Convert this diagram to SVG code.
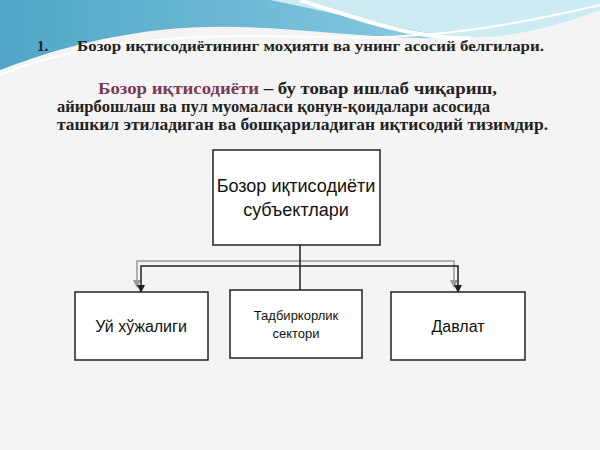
<svg xmlns="http://www.w3.org/2000/svg" width="600" height="450" viewBox="0 0 600 450">
<defs>
<linearGradient id="w" x1="0" y1="0" x2="1" y2="0"><stop offset="0" stop-color="#4fa6c6"/><stop offset="0.6" stop-color="#7cc3dc"/><stop offset="1" stop-color="#b8e2ee"/></linearGradient>
<marker id="ad" markerWidth="8" markerHeight="8" refX="7" refY="4" orient="auto" markerUnits="userSpaceOnUse"><path d="M0,0 L8,4 L0,8 Z" fill="#222"/></marker>
<marker id="ag" markerWidth="8" markerHeight="8" refX="7" refY="4" orient="auto" markerUnits="userSpaceOnUse"><path d="M0,0 L8,4 L0,8 Z" fill="#999"/></marker>
</defs>
<style>
.b{fill:#fff;stroke:#222;stroke-width:1.5}
.t{font-family:"Liberation Sans",Arial,sans-serif;fill:#111}
.s{font-family:"Liberation Serif","Times New Roman",serif;font-weight:bold;fill:#222}
</style>
<rect width="600" height="450" fill="#f4f4f4"/>
<path d="M0,0 H600 V10 C540,25 480,40 420,38 C330,36 250,20 160,30 C90,38 40,55 0,70 Z" fill="url(#w)"/>
<path d="M270,0 C320,10 380,25 440,35 C500,44 560,25 600,10 V0 Z" fill="#cdebf2"/>
<path d="M0,75 C60,50 140,36 250,36 C350,36 420,48 600,5" fill="none" stroke="#fff" stroke-width="2"/>
<path d="M300,0 C360,20 420,40 470,38" fill="none" stroke="#fff" stroke-width="4"/>
<text class="s" x="37" y="51" font-size="15">1.</text>
<text class="s" x="77" y="51" font-size="15" textLength="467" lengthAdjust="spacingAndGlyphs">Бозор иқтисодиётининг  моҳияти ва унинг асосий белгилари.</text>
<text class="s" x="98" y="94" font-size="17" textLength="399" lengthAdjust="spacingAndGlyphs"><tspan fill="#7a3a55">Бозор иқтисодиёти</tspan> – бу товар ишлаб чиқариш,</text>
<text class="s" x="57" y="112" font-size="17" textLength="433" lengthAdjust="spacingAndGlyphs">айирбошлаш ва пул муомаласи қонун-қоидалари асосида</text>
<text class="s" x="57" y="130" font-size="17" textLength="491" lengthAdjust="spacingAndGlyphs">ташкил этиладиган ва бошқариладиган иқтисодий тизимдир.</text>
<g id="connectors" fill="none">
<path d="M300,261 H137 V287" stroke="#999" stroke-width="1.5" marker-end="url(#ag)"/>
<path d="M300,261 H454 V287" stroke="#999" stroke-width="1.5" marker-end="url(#ag)"/>
<path d="M300,266 H141 V292" stroke="#222" stroke-width="1.5" marker-end="url(#ad)"/>
<path d="M300,266 H458 V292" stroke="#222" stroke-width="1.5" marker-end="url(#ad)"/>
<path d="M300,245 V290" stroke="#222" stroke-width="1.5"/>
</g>
<g id="n0"><rect class="b" x="213" y="150" width="167" height="95"/>
<text class="t" x="296" y="192" font-size="18" text-anchor="middle">Бозор иқтисодиёти</text>
<text class="t" x="296" y="216" font-size="18" text-anchor="middle">субъектлари</text></g>
<g id="n1"><rect class="b" x="75" y="292" width="133" height="68"/>
<text class="t" x="141" y="332" font-size="16" text-anchor="middle">Уй хўжалиги</text></g>
<g id="n2"><rect class="b" x="230" y="290" width="132" height="68"/>
<text class="t" x="296" y="320" font-size="13" text-anchor="middle">Тадбиркорлик</text>
<text class="t" x="296" y="338" font-size="13" text-anchor="middle">сектори</text></g>
<g id="n3"><rect class="b" x="391" y="292" width="134" height="68"/>
<text class="t" x="458" y="332" font-size="16" text-anchor="middle">Давлат</text></g>
</svg>
